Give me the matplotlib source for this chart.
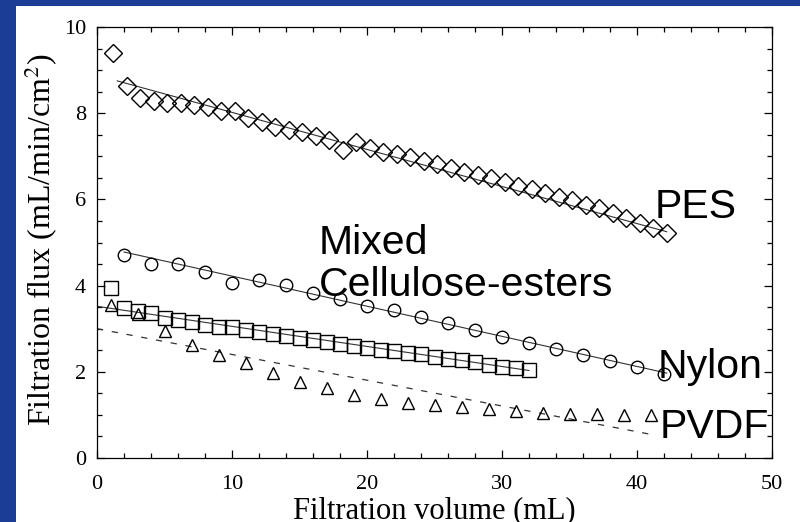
import matplotlib
matplotlib.use("Agg")
import matplotlib.pyplot as plt
from matplotlib.patches import Rectangle
from matplotlib.ticker import MultipleLocator

# ---- data ----
pes_x = [1.2 + i for i in range(42)]
pes_y = [9.40, 8.63, 8.35, 8.29, 8.23, 8.23, 8.18, 8.14, 8.06, 8.04,
         7.88, 7.80, 7.69, 7.60, 7.57, 7.46, 7.38, 7.15, 7.34, 7.19,
         7.10, 7.05, 6.98, 6.90, 6.82, 6.73, 6.63, 6.57, 6.50, 6.40,
         6.30, 6.25, 6.15, 6.06, 5.99, 5.87, 5.80, 5.68, 5.57, 5.45,
         5.34, 5.22]
pes_fit_x = [1.5, 42.2]
pes_fit_y = [8.75, 5.25]

mce_x = [2, 4, 6, 8, 10, 12, 14, 16, 18, 20, 22, 24, 26, 28, 30, 32, 34,
         36, 38, 40, 42]
mce_y = [4.72, 4.49, 4.50, 4.31, 4.06, 4.12, 4.01, 3.83, 3.68, 3.52, 3.43,
         3.27, 3.13, 2.97, 2.81, 2.67, 2.53, 2.39, 2.25, 2.11, 1.95]
mce_fit_x = [2.0, 42.2]
mce_fit_y = [4.78, 1.97]

nylon_x = list(range(1, 33))
nylon_y = [3.94, 3.48, 3.41, 3.36, 3.25, 3.20, 3.16, 3.08, 3.05, 3.03,
           2.98, 2.92, 2.88, 2.84, 2.78, 2.74, 2.68, 2.65, 2.60, 2.55,
           2.51, 2.49, 2.44, 2.41, 2.34, 2.30, 2.27, 2.23, 2.16, 2.11,
           2.09, 2.04]
nylon_fit_x = [0.0, 32.0]
nylon_fit_y = [3.52, 2.03]

pvdf_x = [1, 3, 5, 7, 9, 11, 13, 15, 17, 19, 21, 23, 25, 27, 29, 31, 33,
          35, 37, 39, 41]
pvdf_y = [3.55, 3.34, 2.95, 2.62, 2.39, 2.20, 1.97, 1.76, 1.62, 1.46, 1.38,
          1.27, 1.23, 1.18, 1.14, 1.08, 1.04, 1.02, 1.01, 1.00, 1.00]
pvdf_fit_x = [0.0, 41.0]
pvdf_fit_y = [3.00, 0.55]

BLUE = "#1c3d95"
SERIF = ["Liberation Serif", "DejaVu Serif"]
SANS = ["Liberation Sans", "DejaVu Sans"]
plt.rcParams["mathtext.fontset"] = "stix"

fig = plt.figure(figsize=(8, 5.22), dpi=100, facecolor=BLUE)
# white slide panel
fig.add_artist(Rectangle((16 / 800, 0), 784 / 800, 516 / 522,
                         transform=fig.transFigure, facecolor="white",
                         edgecolor="none", zorder=0))

ax = fig.add_axes([97 / 800, 64 / 522, 675 / 800, 431 / 522])
ax.set_facecolor("white")

mk = dict(linestyle="none", markerfacecolor="none", markeredgecolor="black",
          markeredgewidth=1.0, zorder=3)
ax.plot(pes_x, pes_y, marker="D", markersize=9, **mk)
ax.plot(mce_x, mce_y, marker="o", markersize=9, **mk)
ax.plot(nylon_x, nylon_y, marker="s", markersize=9.5, **mk)
ax.plot(pvdf_x, pvdf_y, marker="^", markersize=8, **mk)

ax.plot(pes_fit_x, pes_fit_y, color="#333333", lw=0.8)
ax.plot(mce_fit_x, mce_fit_y, color="#333333", lw=0.8)
ax.plot(nylon_fit_x, nylon_fit_y, color="#333333", lw=0.8)
ax.plot(pvdf_fit_x, pvdf_fit_y, color="#333333", lw=0.9, linestyle=(0, (5, 7)))

ax.set_xlim(0, 50)
ax.set_ylim(0, 10)
ax.xaxis.set_major_locator(MultipleLocator(10))
ax.xaxis.set_minor_locator(MultipleLocator(2))
ax.yaxis.set_major_locator(MultipleLocator(2))
ax.yaxis.set_minor_locator(MultipleLocator(0.5))
ax.tick_params(which="both", direction="in", top=True, right=True,
               width=0.9, colors="black")
ax.tick_params(which="major", length=6)
ax.tick_params(which="minor", length=3.5)
ax.tick_params(axis="x", pad=12)
ax.tick_params(axis="y", pad=8)
for lbl in ax.get_xticklabels() + ax.get_yticklabels():
    lbl.set_family(SERIF)
    lbl.set_fontsize(16)
for sp in ax.spines.values():
    sp.set_linewidth(0.9)

ax.set_xlabel("Filtration volume (mL)", family=SERIF, fontsize=22,
              va="baseline")
ax.xaxis.set_label_coords(0.5, -0.1405)
ax.set_ylabel("Filtration flux (mL/min/cm$^2$)", family=SERIF, fontsize=23,
              va="center")
ax.yaxis.set_label_coords(-0.083, 0.506)

txt = dict(family=SANS, fontsize=29.5, color="black", va="baseline",
           ha="left", zorder=5)
ax.text(41.3, 5.57, "PES", **txt)
ax.text(16.4, 4.73, "Mixed", **txt)
ax.text(16.4, 3.76, "Cellulose-esters", **txt)
ax.text(41.5, 1.86, "Nylon", **txt)
ax.text(41.7, 0.46, "PVDF", **txt)

fig.savefig("out.png", dpi=100, facecolor=BLUE)
